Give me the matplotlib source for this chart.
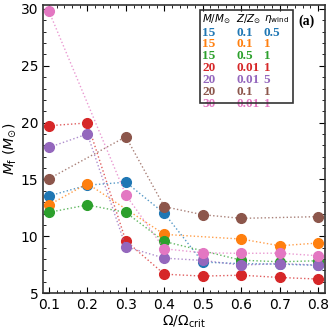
import matplotlib
matplotlib.use('Agg')
import matplotlib.pyplot as plt
from matplotlib.ticker import AutoMinorLocator
from matplotlib.patches import Rectangle

# omega/omega_crit and final mass per model
x_blue = [0.1, 0.2, 0.3, 0.4, 0.5, 0.6, 0.7, 0.8]
m_blue = [13.55, 14.5, 14.76, 12.02, 7.73, 7.6, 7.55, 7.45]
x_orange = [0.1, 0.2, 0.4, 0.6, 0.7, 0.8]
m_orange = [12.76, 14.64, 10.17, 9.76, 9.17, 9.41]
x_green = [0.1, 0.2, 0.3, 0.4, 0.6, 0.7, 0.8]
m_green = [12.11, 12.76, 12.1, 9.55, 7.9, 7.76, 7.85]
x_red = [0.1, 0.2, 0.3, 0.4, 0.5, 0.6, 0.7, 0.8]
m_red = [19.73, 19.97, 9.6, 6.67, 6.5, 6.58, 6.38, 6.24]
x_purple = [0.1, 0.2, 0.3, 0.4, 0.5, 0.6, 0.7, 0.8]
m_purple = [17.82, 19.0, 9.08, 8.08, 7.88, 7.47, 7.6, 7.47]
x_brown = [0.1, 0.3, 0.4, 0.5, 0.6, 0.8]
m_brown = [15.06, 18.76, 12.61, 11.9, 11.58, 11.73]
x_pink = [0.1, 0.3, 0.4, 0.5, 0.6, 0.7, 0.8]
m_pink = [29.8, 13.64, 8.9, 8.55, 8.5, 8.52, 8.29]

mass = ['15', '15', '15', '20', '20', '20', '30']
metal = ['0.1', '0.1', '0.5', '0.01', '0.01', '0.1', '0.01']
eta = ['0.5', '1', '1', '1', '5', '1', '1']

series = [(x_blue, m_blue, 'tab:blue'), (x_orange, m_orange, 'tab:orange'),
          (x_green, m_green, 'tab:green'), (x_red, m_red, 'tab:red'),
          (x_purple, m_purple, 'tab:purple'), (x_brown, m_brown, 'tab:brown'),
          (x_pink, m_pink, 'tab:pink')]

fig = plt.figure(figsize=(3.32, 3.32), dpi=100)
ax = fig.add_axes([0.13, 0.117, 0.849, 0.868])

for xs, ys, c in series:
    ax.plot(xs, ys, ls=':', lw=1.0, color=c, alpha=0.75)
    ax.plot(xs, ys, ls='none', marker='o', ms=7, color=c)

ax.set_xlim(0.085, 0.818)
ax.set_ylim(5, 30.35)
ax.set_xticks([0.1, 0.2, 0.3, 0.4, 0.5, 0.6, 0.7, 0.8])
ax.set_yticks([5, 10, 15, 20, 25, 30])
ax.xaxis.set_minor_locator(AutoMinorLocator())
ax.yaxis.set_minor_locator(AutoMinorLocator())
ax.tick_params(which='both', direction='in', top=True, right=True, labelsize=10)
ax.tick_params(which='major', length=4)
ax.tick_params(which='minor', length=2)
for s in ax.spines.values():
    s.set_linewidth(1.2)
    s.set_color('#333333')

ax.set_xlabel(r'$\Omega/\Omega_{\rm crit}$', fontsize=10, labelpad=1)
ax.set_ylabel(r'$M_{\rm f}\ (M_{\odot})$', fontsize=10, labelpad=2)

# table-like legend
ax.add_patch(Rectangle((0.557, 0.66), 0.33, 0.323, transform=ax.transAxes,
                       fill=False, ec='#333333', lw=1.2, zorder=5))
cols = [0.565, 0.685, 0.782]
top = 0.95
step = 0.0415
heads = [r'$M/M_{\odot}$', r'$Z/Z_{\odot}$', r'$\eta_{\rm wind}$']
for cx, h in zip(cols, heads):
    ax.text(cx, top, h, transform=ax.transAxes, fontsize=7.5, va='center', ha='left')
for i, (_, _, c) in enumerate(series):
    yy = top - step * (i + 1) - 0.004
    for cx, t in zip(cols, [mass[i], metal[i], eta[i]]):
        ax.text(cx, yy, t, transform=ax.transAxes, fontsize=9.5, color=c,
                fontweight='bold', family='Liberation Serif', va='center', ha='left')

ax.text(0.905, 0.945, '(a)', transform=ax.transAxes, fontsize=10,
        fontweight='bold', family='Liberation Serif', va='center', ha='left')

fig.savefig('out.png', dpi=100)
